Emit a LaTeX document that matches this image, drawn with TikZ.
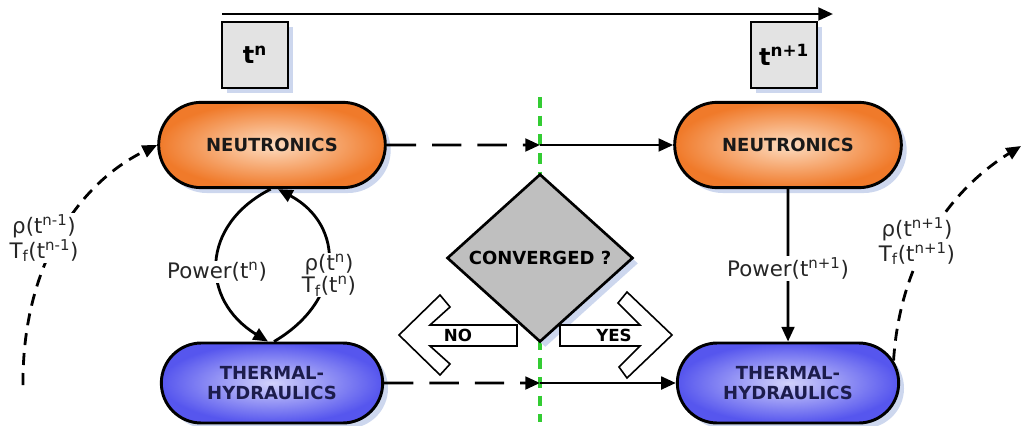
\documentclass[tikz,border=0pt]{standalone}
\usepackage{fontspec}
\setmainfont{DejaVu Sans}
\usetikzlibrary{shapes.misc,shapes.geometric,arrows.meta,shadows}
\definecolor{orin}{HTML}{FDDCC0}
\definecolor{orout}{HTML}{F07A2A}
\definecolor{blin}{HTML}{D2D2FB}
\definecolor{blout}{HTML}{5656EE}
\definecolor{navy}{HTML}{1C1C4C}
\definecolor{tgray}{HTML}{E3E3E3}
\definecolor{dgray}{HTML}{BFBFBF}
\definecolor{shadc}{HTML}{CDD7EE}
\definecolor{gline}{HTML}{33CC33}
\begin{document}
\begin{tikzpicture}[x=0.75pt,y=-0.75pt,
  shad/.style={drop shadow={shadow xshift=4pt,shadow yshift=-4pt,fill=shadc,opacity=1}},
  procN/.style={rounded rectangle, draw, line width=2.2pt, minimum width=170pt, minimum height=64pt,
    inner sep=0pt, inner color=orin, outer color=orout, shad,
    font=\fontsize{13.5}{15}\selectfont\bfseries, text=black!90},
  procT/.style={rounded rectangle, draw, line width=2.2pt, minimum width=166pt, minimum height=60pt,
    inner sep=0pt, inner color=blin, outer color=blout, shad, align=center,
    font=\fontsize{13.5}{15}\selectfont\bfseries, text=navy},
  tbox/.style={draw, line width=2.2pt, fill=tgray, minimum width=49.5pt, minimum height=49.5pt,
    inner sep=0pt, shad, font=\fontsize{18}{20}\selectfont\bfseries},
  decis/.style={diamond, draw, line width=2pt, fill=dgray, minimum width=139.5pt, minimum height=126pt,
    inner sep=0pt, shad, font=\fontsize{13.5}{15}\selectfont\bfseries},
  arr/.style={line width=2.1pt, -{Triangle[length=11pt,width=9.5pt]}},
  darr/.style={arr, dash pattern=on 22pt off 12pt},
  curv/.style={arr, dash pattern=on 9pt off 6pt},
  lab/.style={fill=white, inner sep=1pt, font=\fontsize{16}{16.5}\selectfont, align=center, text=black!85},
  blockarr/.style={draw, line width=1.2pt, fill=white},
  yn/.style={font=\fontsize{12.5}{14}\selectfont\bfseries}
]
\useasboundingbox (0,0) rectangle (1023,425);

% time axis
\coordinate (ts) at (222,14);
\coordinate (te) at (833,14);
\draw[arr] (ts) -- (te);
\node[tbox] (tn) at (255,55) {t\textsuperscript{n}};
\node[tbox] (tn1) at (784,55) {t\textsuperscript{n+1}};

% green separator
\coordinate (gtop) at (540,97);
\coordinate (gbot) at (540,422);
\draw[gline, line width=2.8pt, dash pattern=on 8pt off 6pt] (gtop) -- (gbot);

% decision
\node[decis] (D) at (540,258) {CONVERGED ?};

% process nodes
\node[procN] (N1) at (272,145) {NEUTRONICS};
\node[procN] (N2) at (788,145) {NEUTRONICS};
\node[procT] (T1) at (272,383) {THERMAL-\\HYDRAULICS};
\node[procT] (T2) at (788,383) {THERMAL-\\HYDRAULICS};

% horizontal connectors
\coordinate (c1) at (540,145);
\coordinate (c2) at (540,383);
\draw[darr] (N1) -- (c1);
\draw[arr] (c1) -- (N2);
\draw[darr] (T1) -- (c2);
\draw[arr] (c2) -- (T2);

% coupling at t^n
\draw[arr] ([xshift=-1pt]N1.south) .. controls (200,225) and (200,300) .. ([xshift=-3pt]T1.north);
\draw[arr] ([xshift=1.5pt]T1.north) .. controls (345,300) and (345,225) .. ([xshift=4.5pt]N1.south);
\node[lab] (pw1) at (217,272) {Power(t\textsuperscript{n})};
\node[lab] (rh1) at (329,275) {ρ(t\textsuperscript{n})\\T\textsubscript{f}(t\textsuperscript{n})};

% coupling at t^{n+1}
\draw[arr] (N2) -- node[lab, pos=0.52] (pw2) {Power(t\textsuperscript{n+1})} (T2);

% dashed curves between time steps
\coordinate (lc) at (23,385);
\draw[curv] (lc) .. controls (22,270) and (75,185) .. (N1.west);
\node[lab] (rh0) at (44,238) {ρ(t\textsuperscript{n-1})\\T\textsubscript{f}(t\textsuperscript{n-1})};
\coordinate (rc) at (1021,146);
\draw[curv] (T2.12) .. controls (900,260) and (950,190) .. (rc);
\node[lab] (rh2) at (917,241) {ρ(t\textsuperscript{n+1})\\T\textsubscript{f}(t\textsuperscript{n+1})};

% NO / YES block arrows
\draw[blockarr] (399,335) -- (440,295) -- (450,307) -- (430,325) -- (517,325) -- (517,346)
  -- (430,346) -- (450,364) -- (440,375) -- cycle;
\node[yn] (no) at (458,335) {NO};
\draw[blockarr] (672,335) -- (627,292) -- (618,303) -- (640,325) -- (560,325) -- (560,346)
  -- (640,346) -- (619,367) -- (627,378) -- cycle;
\node[yn] (yes) at (614,335) {YES};
\end{tikzpicture}
\end{document}
